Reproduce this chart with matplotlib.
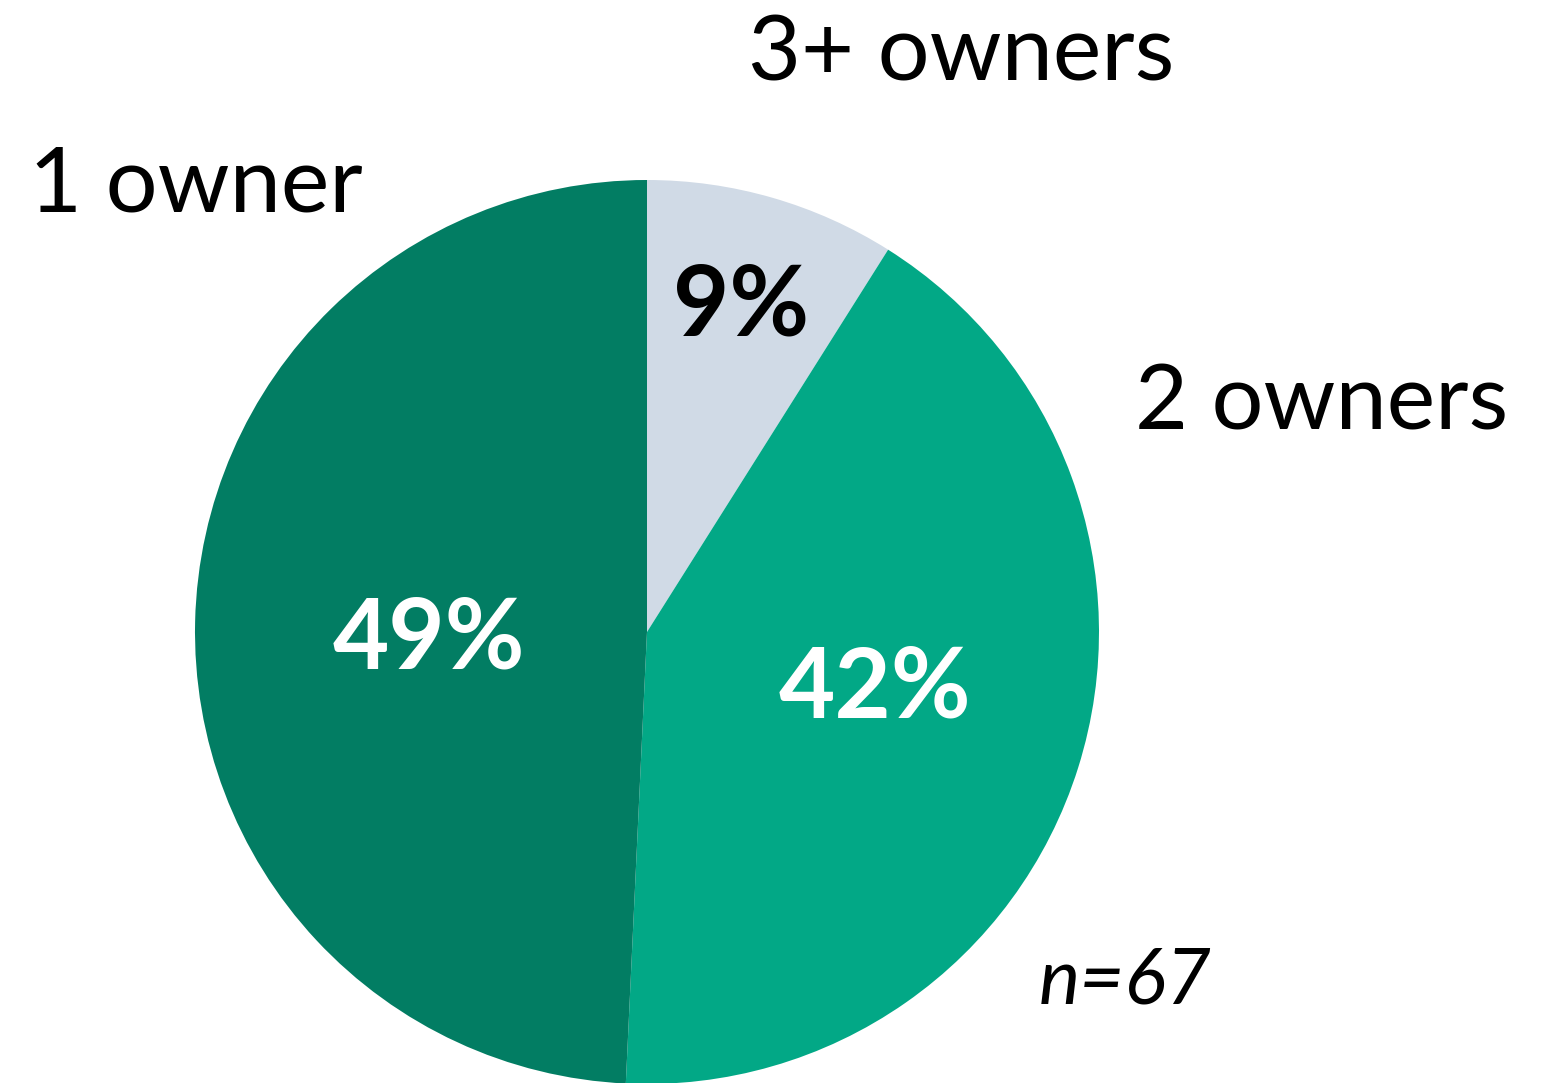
import matplotlib
matplotlib.use("Agg")
import matplotlib.pyplot as plt

# Data (respondent counts, n=67)
labels = ["3+ owners", "2 owners", "1 owner"]
counts = [6, 28, 33]
n_total = sum(counts)
colors = ["#D0DAE6", "#02A886", "#027D63"]
pct_colors = ["black", "white", "white"]

W, H = 1549, 1083
FONT = "Lato"

fig = plt.figure(figsize=(W / 100, H / 100), dpi=100)
fig.patch.set_facecolor("white")
ax = fig.add_axes([0, 0, 1, 1])

cx, cy, r = 647, H - 632, 452
ax.pie(counts, colors=colors, startangle=90, counterclock=False,
       center=(cx, cy), radius=r, frame=True,
       wedgeprops=dict(linewidth=0))
ax.set_xlim(0, W)
ax.set_ylim(0, H)
ax.set_aspect("equal")
ax.axis("off")

# percentage labels inside slices
pct_pos = [(741, 307), (875, 689), (429, 640)]
for c, (px, py), col in zip(counts, pct_pos, pct_colors):
    ax.text(px, H - py, f"{round(100 * c / n_total)}%", color=col, fontsize=70,
            fontweight="bold", family=FONT, ha="center", va="center")

# category labels outside
lab_pos = [(961, 55), (1322, 404), (196, 186)]
for lab, (px, py) in zip(labels, lab_pos):
    ax.text(px, H - py, lab, color="black", fontsize=66, family=FONT,
            ha="center", va="center")

ax.text(1125, H - 981, f"n={n_total}", color="black", fontsize=56,
        family=FONT, style="italic", ha="center", va="center")

fig.savefig("out.png", dpi=100, facecolor="white")
